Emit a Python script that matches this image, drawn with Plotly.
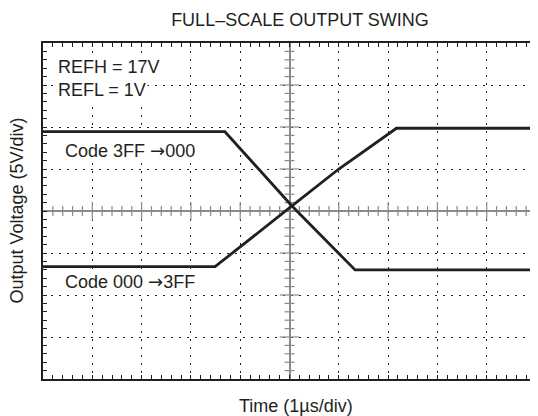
import numpy as np
import plotly.graph_objects as go

# ---- data (time in µs relative to screen centre, voltage in V relative to screen centre; 1 µs/div, 5 V/div)
time_rising = [-5.0, -1.51, 0.05, 1.0, 2.17, 5.0]
volt_rising = [-6.63, -6.63, 0.6, 5.0, 9.85, 9.85]
time_falling = [-5.0, -1.31, 0.05, 1.33, 5.0]
volt_falling = [9.44, 9.44, 0.6, -7.02, -7.02]

x_range = [-5, 5]      # 10 divisions of 1 µs
y_range = [-20, 20]    # 8 divisions of 5 V
x_div, y_div = 1, 5
x_minor, y_minor = 0.2, 1

INK = "#231f20"
GRAY = "#8a8a8a"
FONT = "Liberation Sans, Arial, Helvetica, sans-serif"
ARROW = '<span style="font-family:DejaVu Sans">→</span>'

fig = go.Figure()

# graticule ticks on the centre cross
xt = np.round(np.arange(x_range[0] + x_minor, x_range[1], x_minor), 6)
xt_major = [v for v in xt if abs(v - round(v)) < 1e-6]
xt_minor = [v for v in xt if abs(v - round(v)) >= 1e-6]
yt = np.arange(y_range[0] + y_minor, y_range[1], y_minor)
yt_major = [v for v in yt if v % y_div == 0]
yt_minor = [v for v in yt if v % y_div != 0]

fig.add_trace(go.Scatter(x=xt_minor, y=[0] * len(xt_minor), mode="markers", hoverinfo="skip",
                         marker=dict(symbol="line-ns", size=7, line=dict(width=1.2, color=GRAY))))
fig.add_trace(go.Scatter(x=xt_major, y=[0] * len(xt_major), mode="markers", hoverinfo="skip",
                         marker=dict(symbol="line-ns", size=13, line=dict(width=1.2, color=GRAY))))
fig.add_trace(go.Scatter(x=[0] * len(yt_minor), y=yt_minor, mode="markers", hoverinfo="skip",
                         marker=dict(symbol="line-ew", size=7, line=dict(width=1.2, color=GRAY))))
fig.add_trace(go.Scatter(x=[0] * len(yt_major), y=yt_major, mode="markers", hoverinfo="skip",
                         marker=dict(symbol="line-ew", size=14, line=dict(width=1.2, color=GRAY))))

# waveforms
fig.add_trace(go.Scatter(x=time_falling, y=volt_falling, mode="lines", name="Code 3FF →000",
                         line=dict(color=INK, width=2.8)))
fig.add_trace(go.Scatter(x=time_rising, y=volt_rising, mode="lines", name="Code 000 →3FF",
                         line=dict(color=INK, width=2.8)))

axis_common = dict(
    showline=True, linecolor=INK, linewidth=2, mirror="ticks",
    ticks="inside", ticklen=4, tickwidth=1, tickcolor=INK,
    showticklabels=False,
    showgrid=True, gridcolor=INK, gridwidth=1.3, griddash="2px,6px",
    zeroline=True, zerolinecolor=GRAY, zerolinewidth=2.2,
)
fig.update_xaxes(range=x_range, dtick=x_div, tick0=0,
                 minor=dict(dtick=x_minor, ticks="inside", ticklen=4, tickwidth=1, tickcolor=INK, showgrid=False),
                 **axis_common)
fig.update_yaxes(range=y_range, dtick=y_div, tick0=0,
                 minor=dict(dtick=y_minor, ticks="inside", ticklen=4, tickwidth=1, tickcolor=INK, showgrid=False),
                 **axis_common)

FS = 18

def label(text, x, y, **kw):
    fig.add_annotation(text=text, x=x, y=y, xref="paper", yref="paper", showarrow=False,
                       font=dict(family=FONT, size=FS, color=INK), **kw)

label("REFH = 17V", 0.027, 0.929, xanchor="left", yanchor="middle", bgcolor="white", borderpad=1)
label("REFL = 1V", 0.027, 0.859, xanchor="left", yanchor="middle", bgcolor="white", borderpad=1)
label(f"Code 3FF {ARROW}000", 0.041, 0.680, xanchor="left", yanchor="middle", bgcolor="white", borderpad=1)
label(f"Code 000 {ARROW}3FF", 0.041, 0.289, xanchor="left", yanchor="middle", bgcolor="white", borderpad=1)
label("Time (1µs/div)", 0.5126, -0.080, xanchor="center", yanchor="middle")
label("Output Voltage (5V/div)", -0.0536, 0.5, xanchor="center", yanchor="middle", textangle=-90)

# the page body adds an 8 px margin, so the figure is 8 px smaller than the window
fig.update_layout(
    width=530, height=408,
    margin=dict(l=35, r=0, t=35, b=37),
    paper_bgcolor="white", plot_bgcolor="white",
    showlegend=False,
    font=dict(family=FONT, size=FS, color=INK),
    title=dict(text="FULL–SCALE OUTPUT SWING", xref="container", x=292 / 530, xanchor="center",
               yref="container", y=1 - 11.7 / 408, yanchor="middle",
               font=dict(family=FONT, size=FS, color=INK)),
)

fig.write_html("out.html")
